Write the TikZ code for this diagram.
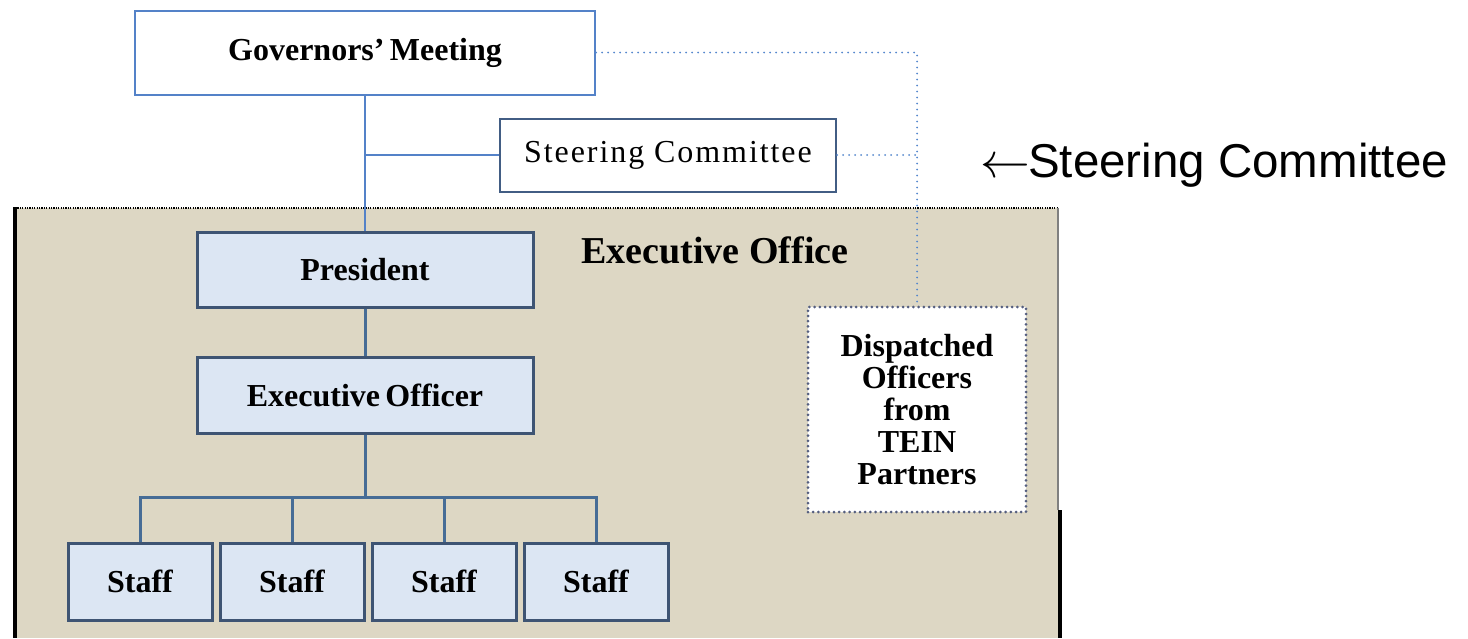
\documentclass[tikz,border=0pt]{standalone}
\usepackage{fontspec}
\setmainfont{Liberation Serif}
\newfontfamily\arialfont{Liberation Sans}
\definecolor{tan}{RGB}{221,215,196}
\definecolor{boxfill}{RGB}{220,230,243}
\definecolor{boxline}{RGB}{62,84,115}
\definecolor{linkblue}{RGB}{84,130,200}
\definecolor{bushblue}{RGB}{70,108,150}
\definecolor{dotblue}{RGB}{85,135,205}
\definecolor{displine}{RGB}{85,95,128}
\begin{document}
\begin{tikzpicture}[x=0.5pt,y=-0.5pt,
  txt/.style={font=\fontsize{16}{19}\selectfont\bfseries, align=center},
  govbox/.style={draw=linkblue, line width=1pt, fill=white, inner sep=0pt, minimum width=230pt, minimum height=42pt, txt},
  steerbox/.style={draw=boxline!80!linkblue, line width=1pt, fill=white, inner sep=0pt, minimum width=168pt, minimum height=36.5pt, font=\fontsize{16}{19}\selectfont},
  orgbox/.style={draw=boxline, line width=1.5pt, fill=boxfill, inner sep=0pt, txt},
  staffbox/.style={orgbox, minimum width=72pt, minimum height=38.5pt},
  dispbox/.style={draw=displine, line width=1.5pt, dash pattern=on 0pt off 2.6pt, line cap=round, fill=white, inner sep=0pt, minimum width=109pt, minimum height=102.5pt, txt, font=\fontsize{16}{16}\selectfont\bfseries},
  conn/.style={draw=linkblue, line width=1pt},
  bus/.style={draw=bushblue, line width=1.5pt},
  dotconn/.style={draw=dotblue, line width=1pt, dash pattern=on 0pt off 3pt, line cap=round},
]
\useasboundingbox (0,0) rectangle (1468,638);
% Executive office background
\fill[tan] (16,208) rectangle (1058,638);
\draw[black, line width=0.8pt, dash pattern=on 0.6pt off 0.6pt] (15,208) -- (1058,208);
\draw[black, line width=2pt] (15,207) -- (15,638);
\draw[gray, line width=0.6pt] (1058,208) -- (1058,510);
\draw[black, line width=1.6pt] (1060,510) -- (1060,638);

% nodes
\node[govbox] (gov) at (365,52.5) {Governors'\,Meeting};
\node[steerbox] (steer) at (668,155) {\addfontfeature{LetterSpace=6}Steering Committee};
\node[font=\fontsize{19}{22}\selectfont\bfseries] (eotitle) at (715,250) {Executive Office};
\node[orgbox, minimum width=168pt, minimum height=37.5pt] (pres) at (365,269.5) {President};
\node[orgbox, minimum width=168pt, minimum height=38pt] (eo) at (365,395) {Executive\,Officer};
\node[staffbox] (s1) at (140,581.5) {Staff};
\node[staffbox] (s2) at (292,581.5) {Staff};
\node[staffbox] (s3) at (444,581.5) {Staff};
\node[staffbox] (s4) at (596,581.5) {Staff};
\node[dispbox] (disp) at (917,409.5) {Dispatched\\Officers\\from\\TEIN\\Partners};
\node[anchor=base west, inner sep=0pt, font=\arialfont\fontsize{23.75}{28}\selectfont] (note) at (980,177) {$\leftarrow$\hspace{-1pt}Steering Committee};

% connectors
\coordinate (j1) at (gov.south |- steer.west);
\draw[conn] (gov.south) -- (pres.north);
\draw[conn] (j1) -- (steer.west);
\draw[bus] (pres.south) -- (eo.north);
\coordinate (busc) at (365,497);
\draw[bus] (eo.south) -- (busc);
\draw[bus] (s1.north) -- (s1.north |- busc) -- (s4.north |- busc) -- (s4.north);
\draw[bus] (s2.north) -- (s2.north |- busc);
\draw[bus] (s3.north) -- (s3.north |- busc);
\coordinate (c1) at (disp.north |- gov.east);
\draw[dotconn] (gov.east) -- (c1) -- (disp.north);
\draw[dotconn] (steer.east) -- (steer.east -| disp.north);
\end{tikzpicture}
\end{document}
